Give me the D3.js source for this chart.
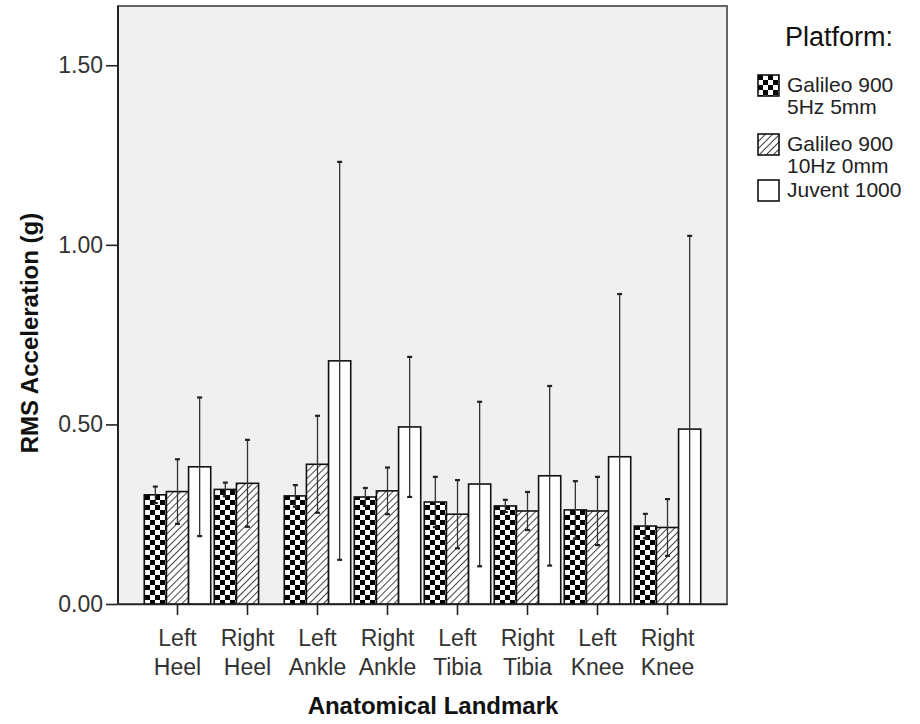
<!DOCTYPE html>
<html lang="en">
<head>
	<meta charset="UTF-8"/>
	<title>RMS Acceleration by Landmark</title>
	<script src="https://d3js.org/d3.v7.min.js"></script>
	<style>
		body { margin: 0; background-color: white; }
		text { font-family: "Liberation Sans", Arial, sans-serif; fill: #222; }
		.plotbg { fill: #f0f0f0; stroke: #666; stroke-width: 2; }
		.bar { stroke: #111; stroke-width: 1.6; }
		.err { stroke: #333; stroke-width: 1.3; }
		.cap { stroke: #222; stroke-width: 2.2; }
		.axis path, .axis line { stroke: #222; stroke-width: 1.6; }
		.axis text { font-size: 23px; fill: #333; }
		.title { font-size: 24px; font-weight: bold; fill: #111; }
	</style>
</head>
<body>
	<div id="chart"></div>

	<script>
	// data
	var categories = ["Left Heel", "Right Heel", "Left Ankle", "Right Ankle", "Left Tibia", "Right Tibia", "Left Knee", "Right Knee"];
	var seriesNames = ["Galileo 900 5Hz 5mm", "Galileo 900 10Hz 0mm", "Juvent 1000"];
	var legendLines = [["Galileo 900", "5Hz 5mm"], ["Galileo 900", "10Hz 0mm"], ["Juvent 1000"]];

	var galileo5 = [0.304, 0.319, 0.301, 0.298, 0.284, 0.273, 0.262, 0.217];
	var galileo5Upper = [0.327, 0.338, 0.331, 0.323, 0.354, 0.290, 0.342, 0.251];
	var galileo5Lower = [0.281, 0.300, 0.271, 0.273, 0.214, 0.256, 0.182, 0.183];

	var galileo10 = [0.313, 0.336, 0.389, 0.315, 0.250, 0.259, 0.259, 0.213];
	var galileo10Upper = [0.403, 0.457, 0.524, 0.380, 0.345, 0.312, 0.354, 0.292];
	var galileo10Lower = [0.223, 0.215, 0.254, 0.250, 0.155, 0.206, 0.164, 0.134];

	var juvent = [0.382, null, 0.677, 0.493, 0.334, 0.357, 0.410, 0.487];
	var juventUpper = [0.575, null, 1.231, 0.688, 0.563, 0.607, 0.863, 1.025];
	var juventLower = [0.189, null, 0.123, 0.298, 0.105, 0.107, 0.000, 0.000];

	var yTicks = [0, 0.5, 1.0, 1.5];

	var w = 920, h = 724;
	var margin = {top: 6, left: 118, right: 193, bottom: 120};

	var means = [galileo5, galileo10, juvent];
	var uppers = [galileo5Upper, galileo10Upper, juventUpper];
	var lowers = [galileo5Lower, galileo10Lower, juventLower];
	var fills = ["url(#checker)", "url(#hatch)", "white"];

	var dataset = [];
	means.forEach(function(arr, s){
		arr.forEach(function(v, i){
			if (v === null) return;
			dataset.push({cat: categories[i], series: seriesNames[s], s: s, value: v, hi: uppers[s][i], lo: lowers[s][i]});
		});
	});

	var svg = d3.select("#chart")
				.append("svg")
				.attr("width", w)
				.attr("height", h);

	var defs = svg.append("defs");
	var checker = defs.append("pattern")
		.attr("id", "checker")
		.attr("patternUnits", "userSpaceOnUse")
		.attr("width", 10).attr("height", 10);
	checker.append("rect").attr("width", 10).attr("height", 10).attr("fill", "white");
	checker.append("rect").attr("width", 5).attr("height", 5).attr("fill", "black");
	checker.append("rect").attr("x", 5).attr("y", 5).attr("width", 5).attr("height", 5).attr("fill", "black");

	var hatch = defs.append("pattern")
		.attr("id", "hatch")
		.attr("patternUnits", "userSpaceOnUse")
		.attr("width", 5).attr("height", 5)
		.attr("patternTransform", "rotate(45)");
	hatch.append("rect").attr("width", 5).attr("height", 5).attr("fill", "white");
	hatch.append("line").attr("x1", 0).attr("y1", 0).attr("x2", 0).attr("y2", 5)
		.attr("stroke", "#111").attr("stroke-width", 1.6);

	var x0 = d3.scaleBand()
				.domain(categories)
				.range([margin.left, w - margin.right])
				.paddingInner(0)
				.paddingOuter(0.35);

	var x1 = d3.scaleBand()
				.domain(seriesNames)
				.range([0, x0.bandwidth()])
				.paddingInner(0)
				.paddingOuter(0.08);

	var yScale = d3.scaleLinear()
				.domain([0, 1.665])
				.range([h - margin.bottom, margin.top]);

	// plot background and frame
	svg.append("rect")
		.attr("class", "plotbg")
		.attr("x", margin.left)
		.attr("y", margin.top)
		.attr("width", w - margin.right - margin.left)
		.attr("height", h - margin.bottom - margin.top);

	svg.selectAll(".bar")
		.data(dataset)
		.enter()
		.append("rect")
		.attr("class", "bar")
		.attr("x", function(d){ return x0(d.cat) + x1(d.series); })
		.attr("y", function(d){ return yScale(d.value); })
		.attr("width", x1.bandwidth())
		.attr("height", function(d){ return yScale(0) - yScale(d.value); })
		.attr("fill", function(d){ return fills[d.s]; });

	// error bars
	var errs = svg.selectAll(".errg")
		.data(dataset)
		.enter()
		.append("g")
		.attr("class", "errg")
		.attr("transform", function(d){ return "translate(" + (x0(d.cat) + x1(d.series) + x1.bandwidth() / 2) + ",0)"; });

	errs.append("line")
		.attr("class", "err")
		.attr("x1", 0).attr("x2", 0)
		.attr("y1", function(d){ return yScale(d.hi); })
		.attr("y2", function(d){ return yScale(d.lo); });

	errs.append("line")
		.attr("class", "cap")
		.attr("x1", -2.5).attr("x2", 2.5)
		.attr("y1", function(d){ return yScale(d.hi); })
		.attr("y2", function(d){ return yScale(d.hi); });

	errs.filter(function(d){ return d.lo > 0; })
		.append("line")
		.attr("class", "cap")
		.attr("x1", -2.5).attr("x2", 2.5)
		.attr("y1", function(d){ return yScale(d.lo); })
		.attr("y2", function(d){ return yScale(d.lo); });

	// axes
	var yAxis = d3.axisLeft(yScale)
				.tickValues(yTicks)
				.tickFormat(d3.format(".2f"))
				.tickSize(12)
				.tickPadding(3);

	svg.append("g")
		.attr("class", "axis")
		.attr("transform", "translate(" + margin.left + ",0)")
		.call(yAxis)
		.call(function(g){ g.select(".domain").remove(); });

	svg.append("line")
		.attr("class", "axisline")
		.attr("x1", margin.left).attr("x2", margin.left)
		.attr("y1", margin.top).attr("y2", yScale(0))
		.attr("stroke", "#222").attr("stroke-width", 2);

	var xAxis = d3.axisBottom(x0)
				.tickSize(11)
				.tickSizeOuter(0)
				.tickFormat("");

	var xg = svg.append("g")
		.attr("class", "axis")
		.attr("transform", "translate(0," + yScale(0) + ")")
		.call(xAxis);
	xg.select(".domain").attr("stroke-width", 2);

	xg.selectAll(".tick")
		.append("text")
		.attr("text-anchor", "middle")
		.selectAll("tspan")
		.data(function(d){ return d.split(" "); })
		.enter()
		.append("tspan")
		.attr("x", 0)
		.attr("y", function(d, i){ return 42 + i * 29; })
		.text(function(d){ return d; });

	// titles
	svg.append("text")
		.attr("class", "title")
		.attr("text-anchor", "middle")
		.attr("x", 433)
		.attr("y", 714)
		.text("Anatomical Landmark");

	svg.append("text")
		.attr("class", "title")
		.attr("text-anchor", "middle")
		.attr("transform", "translate(38," + 333 + ") rotate(-90)")
		.text("RMS Acceleration (g)");

	// legend
	var legend = svg.append("g").attr("transform", "translate(758,0)");
	legend.append("text")
		.attr("x", 27)
		.attr("y", 46)
		.style("font-size", "27px")
		.style("fill", "#111")
		.text("Platform:");

	var legendTop = [75, 134, 180];
	var legendItem = legend.selectAll(".litem")
		.data(seriesNames)
		.enter()
		.append("g")
		.attr("class", "litem")
		.attr("transform", function(d, i){ return "translate(0," + legendTop[i] + ")"; });

	legendItem.append("rect")
		.attr("class", "bar")
		.attr("width", 21)
		.attr("height", 21)
		.attr("fill", function(d, i){ return fills[i]; });

	legendItem.append("text")
		.style("font-size", "21px")
		.selectAll("tspan")
		.data(function(d, i){ return legendLines[i]; })
		.enter()
		.append("tspan")
		.attr("x", 29)
		.attr("y", function(d, i){ return 17 + i * 22; })
		.text(function(d){ return d; });
	</script>
</body>
</html>
